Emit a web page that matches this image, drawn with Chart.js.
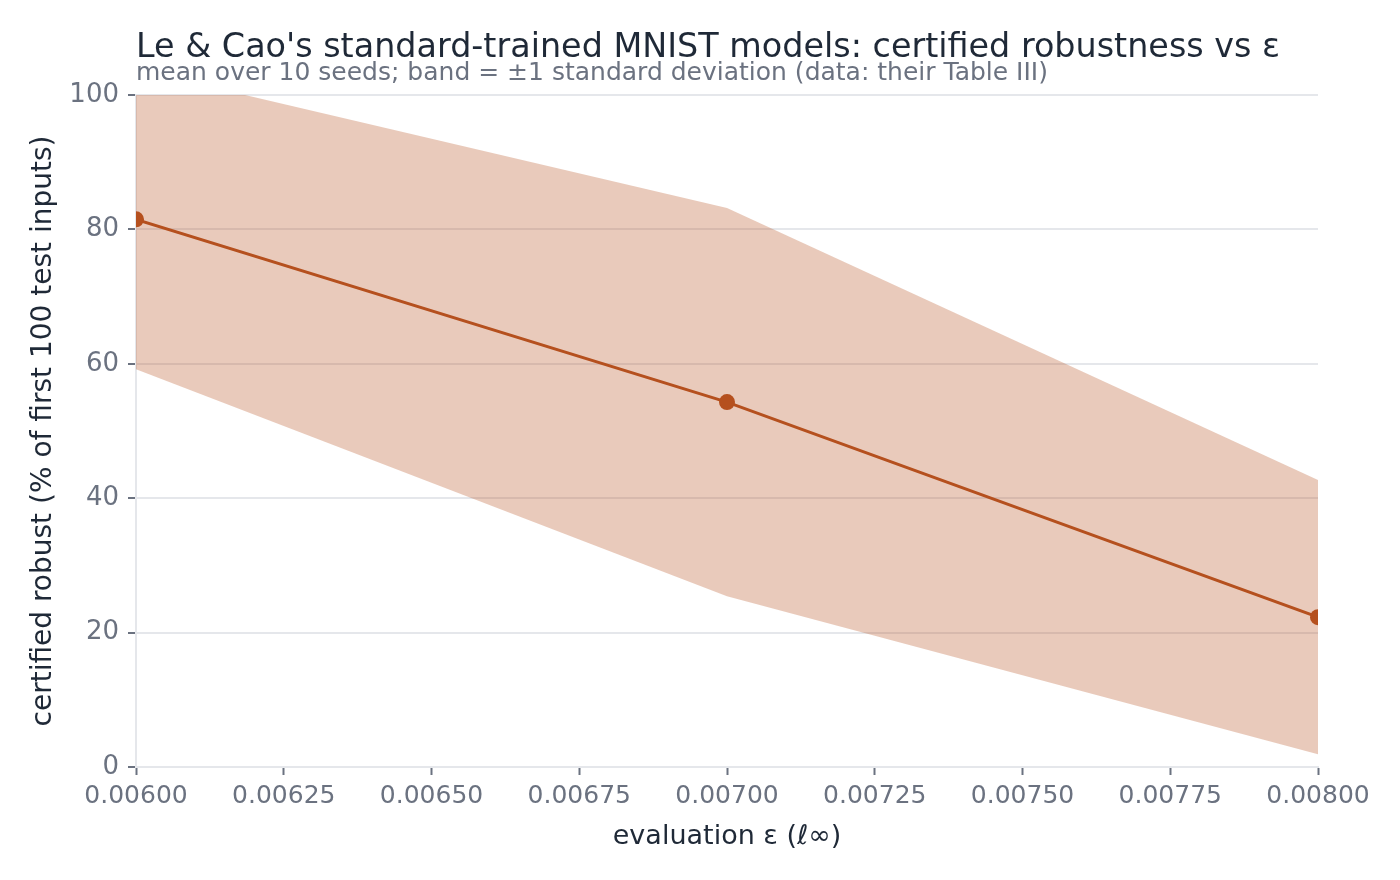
<!DOCTYPE html>
<html>
<head>
<meta charset="utf-8">
<script src="https://cdn.jsdelivr.net/npm/chart.js@4/dist/chart.umd.min.js"></script>
<style>
  html, body { margin: 0; padding: 0; background: #fff; }
  #wrap { width: 1400px; height: 880px; }
</style>
</head>
<body>
<div id="wrap"><canvas id="robustChart" width="1400" height="880"></canvas></div>
<script>
// values (Le & Cao, Table III)
const epsValues = [0.006, 0.007, 0.008];
const meanRobust = [81.5, 54.3, 22.3];
const stdRobust = [22.3, 28.9, 20.4];
const yTicks = [0, 20, 40, 60, 80, 100];

const titleText = "Le & Cao's standard-trained MNIST models: certified robustness vs \u03b5";
const subtitleText = "mean over 10 seeds; band = \u00b11 standard deviation (data: their Table III)";

const lineColor = "#b5501e";
const bandColor = "rgba(181, 80, 30, 0.3)";
const inkColor = "#1f2937";
const mutedColor = "#6b7280";
const gridColor = "#e5e7eb";
const fontFamily = "'DejaVu Sans', sans-serif";

const upperBand = epsValues.map((x, i) => ({ x: x, y: meanRobust[i] + stdRobust[i] }));
const lowerBand = epsValues.map((x, i) => ({ x: x, y: meanRobust[i] - stdRobust[i] }));
const meanLine = epsValues.map((x, i) => ({ x: x, y: meanRobust[i] }));

// title + subtitle left-aligned to the plot area
const headerPlugin = {
  id: 'header',
  afterDraw(chart) {
    const ctx = chart.ctx;
    const left = chart.chartArea.left;
    ctx.save();
    ctx.textAlign = 'left';
    ctx.textBaseline = 'alphabetic';
    ctx.fillStyle = inkColor;
    ctx.font = "33.4px " + fontFamily;
    ctx.fillText(titleText, left, 57);
    ctx.fillStyle = mutedColor;
    ctx.font = "25px " + fontFamily;
    ctx.fillText(subtitleText, left, 80);
    ctx.restore();
  }
};

let chartCtx = document.getElementById("robustChart").getContext("2d");
let chart = new Chart(chartCtx, {
  type: 'line',
  data: {
    datasets: [
      {
        label: 'upper',
        data: upperBand,
        borderWidth: 0,
        pointRadius: 0,
        backgroundColor: bandColor,
        fill: '+1',
        order: 2
      },
      {
        label: 'lower',
        data: lowerBand,
        borderWidth: 0,
        pointRadius: 0,
        backgroundColor: bandColor,
        fill: false,
        order: 2
      },
      {
        label: 'mean',
        data: meanLine,
        borderColor: lineColor,
        backgroundColor: lineColor,
        borderWidth: 3,
        pointRadius: 8,
        pointHoverRadius: 8,
        pointBorderWidth: 0,
        fill: false,
        order: 1
      }
    ]
  },
  options: {
    responsive: false,
    animation: false,
    layout: { padding: { top: 95, right: 82, bottom: 0, left: 0 } },
    plugins: {
      legend: { display: false },
      tooltip: { enabled: false },
      title: { display: false }
    },
    scales: {
      x: {
        type: 'linear',
        min: 0.006,
        max: 0.008,
        afterFit(scale) { scale.height = 113; },
        afterBuildTicks(scale) {
          const t = [];
          for (let i = 0; i <= 8; i++) t.push({ value: 0.006 + i * 0.00025 });
          scale.ticks = t;
        },
        ticks: {
          color: mutedColor,
          font: { family: fontFamily, size: 25 },
          padding: 6,
          maxRotation: 0,
          autoSkip: false,
          callback: (v) => Number(v).toFixed(5)
        },
        grid: {
          drawOnChartArea: false,
          drawTicks: true,
          tickLength: 8,
          tickWidth: 2,
          tickColor: mutedColor
        },
        border: { color: gridColor, width: 2 },
        title: {
          display: true,
          text: 'evaluation \u03b5 (\u2113\u221e)',
          color: inkColor,
          font: { family: fontFamily, size: 27 },
          padding: { top: 8, bottom: 27 }
        }
      },
      y: {
        min: 0,
        max: 100,
        afterFit(scale) { scale.width = 136; },
        afterBuildTicks(scale) { scale.ticks = yTicks.map(v => ({ value: v })); },
        ticks: {
          color: mutedColor,
          font: { family: fontFamily, size: 26 },
          padding: 9
        },
        grid: {
          color: gridColor,
          lineWidth: 2,
          drawTicks: true,
          tickLength: 8,
          tickWidth: 2,
          tickColor: mutedColor
        },
        border: { color: gridColor, width: 2 },
        title: {
          display: true,
          text: 'certified robust (% of first 100 test inputs)',
          color: inkColor,
          font: { family: fontFamily, size: 28 },
          padding: { top: 27, bottom: 0 }
        }
      }
    }
  },
  plugins: [headerPlugin]
});
</script>
</body>
</html>
